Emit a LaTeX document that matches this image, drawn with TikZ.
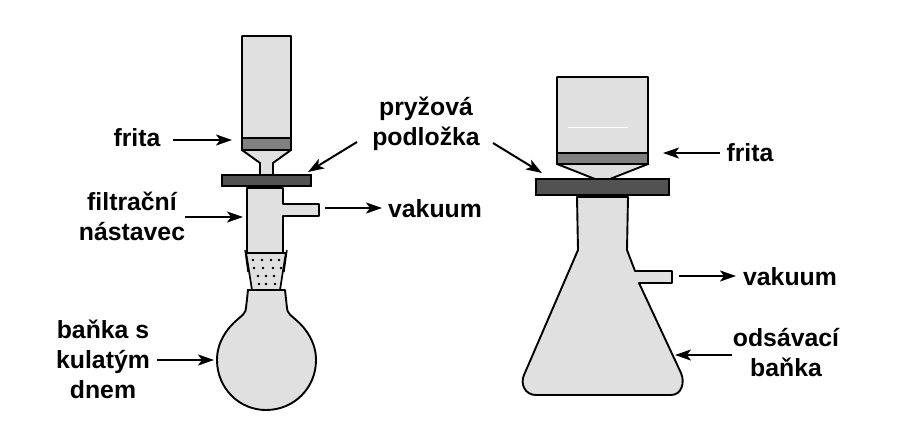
\documentclass[tikz,border=0pt]{standalone}
\usepackage{fontspec}
\setmainfont{Liberation Sans}
\usetikzlibrary{arrows.meta}
\definecolor{glass}{RGB}{224,224,224}
\definecolor{fritc}{RGB}{128,128,128}
\definecolor{rubber}{RGB}{82,82,82}
\tikzset{
 vessel/.style={draw=black,fill=glass,line width=1.9pt,line join=round},
 fritbox/.style={draw=black,fill=fritc,line width=1.9pt},
 rubberbox/.style={draw=black,fill=rubber,line width=1.7pt},
 lbl/.style={font=\fontsize{24.8}{30}\selectfont\bfseries,align=center,inner sep=0pt,text=black},
 pointer/.style={line width=2pt,-{Stealth[length=16pt,width=11pt,inset=4pt]}},
 thin wall/.style={draw=black,line width=1.3pt},
}
\begin{document}
\begin{tikzpicture}[x=1pt,y=-1pt]
\useasboundingbox[fill=white] (0,0) rectangle (914,429);
% left apparatus
\draw[vessel] (242,36) -- (291,36) -- (291,150) -- (273,163) -- (273,176) -- (260,176) -- (260,163) -- (242,150) -- cycle;
\draw[fritbox] (242,138) rectangle (291,150);
\draw[vessel] (247,188) -- (283,188) -- (283,204) -- (319,204) -- (319,216) -- (283,216) -- (283,253) -- (247,253) -- cycle;
\draw[rubberbox] (222,175) rectangle (311,186);
% round flask
\draw[vessel] (248,290) -- (246,308) .. controls (246,312) and (243,315) .. (238,319)
  .. controls (226,329) and (217,343) .. (217,360)
  .. controls (217,388) and (239,410) .. (266,410)
  .. controls (294,410) and (316,388) .. (316,360)
  .. controls (316,343) and (307,329) .. (295,319)
  .. controls (290,315) and (287,312) .. (287,308) -- (285,290) -- cycle;
% stopper joint
\fill[glass] (247,253) -- (285,253) -- (280,290) -- (252,290) -- cycle;
\draw[thin wall] (245,250) -- (248,272);
\draw[thin wall] (287,250) -- (284,272);
\draw[line width=1.7pt] (246,252) -- (252,290);
\draw[line width=1.7pt] (286,252) -- (280,290);
\draw[line width=1.9pt] (245,253) -- (287,253);
\draw[line width=1.9pt] (247,290) -- (285,290);
\foreach \p in {(253,260),(262,260),(271,260),(279,260),(254,268),(263,268),(273,268),(281,268),(258,276),(266,276),(274,276),(259,284),(266,284),(275,284)}
  \fill[black] \p circle (1.3);
% right apparatus
\draw[vessel] (557,77) -- (648,77) -- (648,164) -- (610,179) -- (595,179) -- (557,164) -- cycle;
\draw[draw=white,line width=.5pt] (568,127) -- (628,127);
\draw[fritbox] (557,153) rectangle (648,164);
\draw[vessel] (577,197) -- (628,197) -- (627,250) -- (635,271) -- (672,271) -- (672,283) -- (639,283)
  -- (681,373) .. controls (685,382) and (682,395) .. (671,395)
  -- (536,395) .. controls (525,395) and (520,384) .. (524,375) -- (578,250) -- cycle;
\draw[rubberbox] (536,179) rectangle (669,195);
% labels
\node[lbl] (fritaL) at (137,138) {frita};
\node[lbl] (pryz) at (426,123.5) {pryžová\\podložka};
\node[lbl] (fritaR) at (750,153) {frita};
\node[lbl] (filtr) at (132,216) {filtrační\\nástavec};
\node[lbl] (vakL) at (435,209) {vakuum};
\node[lbl] (vakR) at (790,277) {vakuum};
\node[lbl] (banka) at (103,359) {baňka s\\kulatým\\dnem};
\node[lbl] (odsav) at (786,353) {odsávací\\baňka};
% pointer ends
\coordinate (a1s) at (173,140); \coordinate (a1e) at (232,140);
\coordinate (a2s) at (357,142); \coordinate (a2e) at (308,172);
\coordinate (a3s) at (493,143); \coordinate (a3e) at (542,173);
\coordinate (a4s) at (720,153); \coordinate (a4e) at (663,153);
\coordinate (a5s) at (185,217); \coordinate (a5e) at (243,217);
\coordinate (a6s) at (325,208); \coordinate (a6e) at (382,208);
\coordinate (a7s) at (679,276); \coordinate (a7e) at (736,276);
\coordinate (a8s) at (157,360); \coordinate (a8e) at (214,360);
\coordinate (a9s) at (732,355); \coordinate (a9e) at (675,355);
\foreach \i in {1,...,9} \draw[pointer] (a\i s) -- (a\i e);
\end{tikzpicture}
\end{document}
